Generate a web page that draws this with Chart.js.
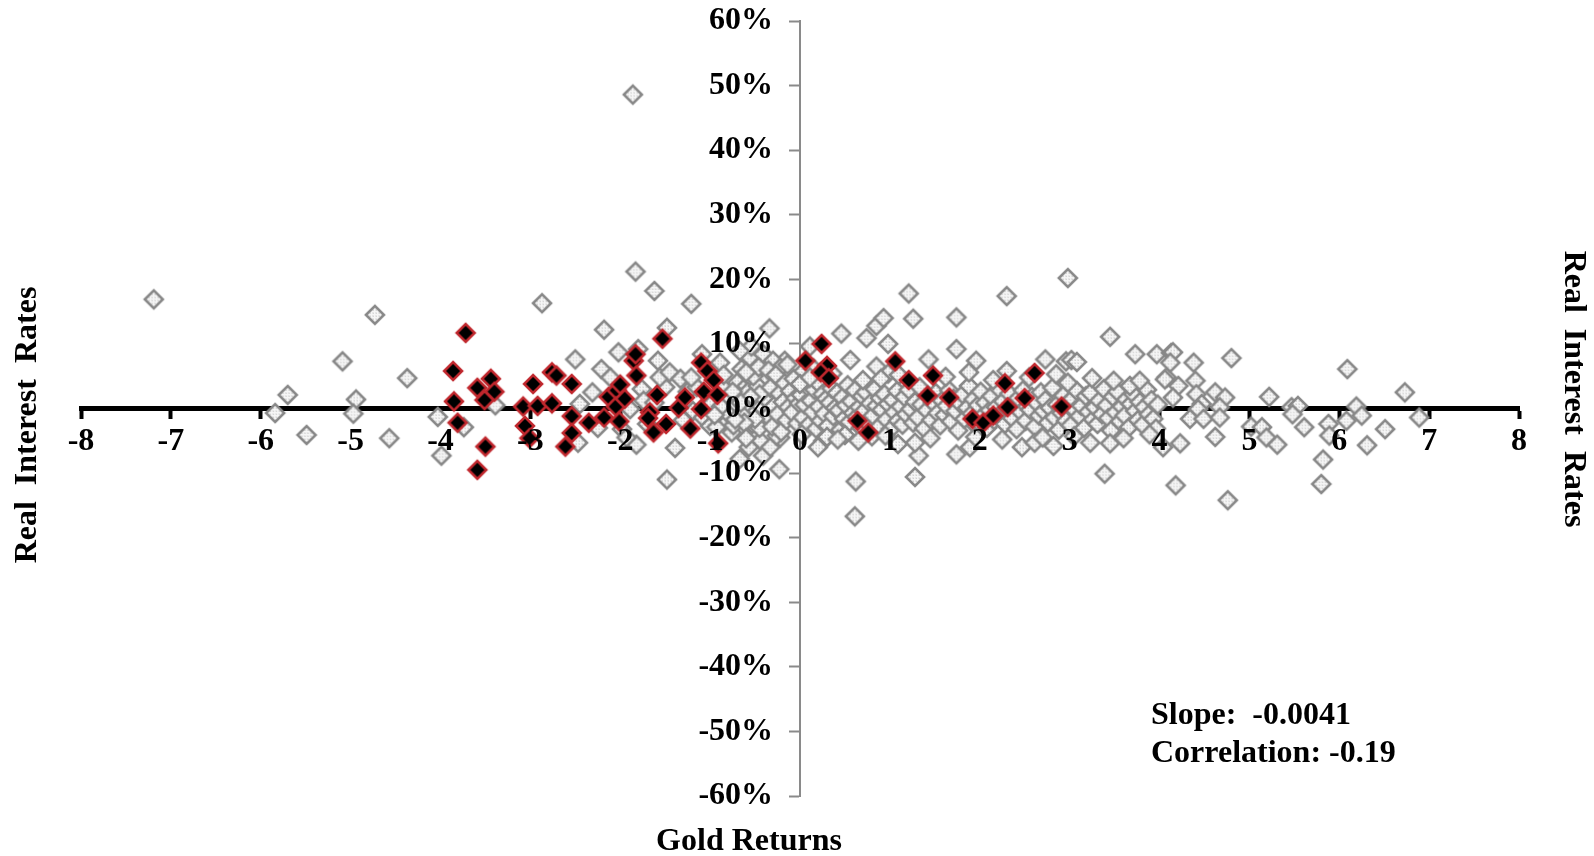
<!DOCTYPE html>
<html>
<head>
<meta charset="utf-8">
<title>Gold Returns vs Real Interest Rates</title>
<script src="https://cdn.jsdelivr.net/npm/chart.js@4.4.1/dist/chart.umd.min.js"></script>
<style>
  html, body { margin: 0; padding: 0; background: #ffffff; }
  #wrap { width: 1594px; height: 856px; position: relative; }
</style>
</head>
<body>
<div id="wrap"><canvas id="chart" width="1594" height="856"></canvas></div>
<script>
// Axis ranges and tick steps
const xRange = [-8, 8];
const yRange = [-60, 60];
const xStep = 1;
const yStep = 10;

// Text
const yTitle = 'Real  Interest  Rates';
const xTitle = 'Gold Returns';
const statLines = ['Slope:  -0.0041', 'Correlation: -0.19'];

// Highlighted observations: [gold return, real interest rate %]
const redPoints = [
  [-3.72,11.7],[-3.86,5.8],[-3.85,1.1],[-3.81,-2.2],[-3.59,3.2],[-3.44,4.6],[-3.40,2.6],[-3.51,1.3],[-3.50,-5.9],[-3.59,-9.5],
  [-2.97,3.8],[-3.08,0.3],[-2.92,0.4],[-2.76,0.8],[-3.06,-2.7],[-3.01,-4.6],[-2.76,5.6],[-2.71,5.1],[-2.54,3.8],[-2.54,-1.2],
  [-2.54,-3.8],[-2.61,-5.9],[-2.35,-2.2],[-2.18,-1.4],[-2.13,1.8],[-2.04,2.8],[-2.00,3.7],[-2.05,0.3],[-1.95,1.5],[-2.01,-2.0],
  [-1.85,7.4],[-1.83,8.4],[-1.82,5.1],[-1.53,10.8],[-1.59,2.1],[-1.67,-0.6],[-1.69,-1.5],[-1.63,-3.7],[-1.49,-2.4],[-1.35,0.1],
  [-1.28,1.7],[-1.22,-3.1],[-1.10,7.1],[-1.03,5.8],[-0.96,4.4],[-1.07,2.6],[-0.92,2.1],[-1.10,-0.1],[-0.91,-5.4],
  [0.24,10.0],[0.06,7.4],[0.30,6.6],[0.23,5.6],[0.32,4.7],[0.64,-1.9],[0.76,-3.7],[1.06,7.3],[1.21,4.4],[1.48,5.1],
  [1.42,2.0],[1.66,1.7],[1.92,-1.6],[2.04,-2.2],[2.15,-1.1],[2.31,0.2],[2.28,3.9],[2.50,1.6],[2.61,5.5],[2.91,0.3]
];

// All other observations: [gold return, real interest rate %]
const grayPoints = [
  // far left
  [-7.19,16.9],[-5.70,2.1],[-5.84,-0.7],[-5.49,-4.1],[-5.09,7.3],[-4.94,1.4],[-4.97,-0.8],[-4.73,14.5],[-4.57,-4.6],[-4.37,4.7],
  [-4.03,-1.3],[-3.99,-7.3],[-3.74,-2.9],[-3.39,0.5],
  // -3 to -1
  [-2.87,16.3],[-2.50,7.6],[-2.21,6.1],[-2.18,12.2],[-2.45,0.7],[-2.31,2.5],[-2.47,-5.3],[-2.11,4.8],[-2.25,-3.0],[-1.98,-3.2],
  [-2.02,8.7],[-1.80,9.2],[-1.58,7.4],[-1.89,-0.1],[-1.82,-5.6],[-1.93,-4.5],[-1.76,3.0],[-1.74,1.2],[-1.70,-2.4],[-1.62,0.9],
  [-1.50,3.3],[-1.56,4.8],[-1.45,5.6],[-1.33,4.6],[-1.48,12.5],[-1.21,16.2],[-1.86,48.6],[-1.83,21.2],[-1.62,18.2],[-1.39,-6.1],
  [-1.48,-11.0],[-1.30,-1.8],[-1.25,2.6],[-1.15,3.3],[-1.21,4.8],[-1.09,8.4],[-1.19,-0.4],[-1.08,-1.4],[-1.00,-2.7],
  // -1 to 0
  [-0.89,7.1],[-0.65,6.1],[-0.56,7.9],[-0.41,8.4],[-0.39,4.3],[-0.70,4.0],[-0.63,3.0],[-0.82,1.2],[-0.85,-1.9],[-0.93,-2.9],
  [-0.76,-3.7],[-0.52,-3.7],[-0.44,-5.0],[-0.57,-6.0],[-0.67,-7.8],[-0.41,-7.3],[-0.70,-0.4],[-0.59,0.7],[-0.48,-0.4],[-0.34,12.4],
  [-0.54,9.6],[-0.67,8.9],[-0.23,-9.4],[-0.17,7.4],[-0.30,7.4],[-0.22,6.3],[-0.22,-4.5],[-0.33,-6.0],[-0.07,3.3],
  [-0.98,0.8],[-0.90,-0.6],[-0.86,3.3],[-0.78,0.0],[-0.74,-2.6],[-0.68,1.9],[-0.64,-1.0],[-0.58,2.6],[-0.53,-2.4],[-0.47,3.5],
  [-0.43,0.3],[-0.40,-2.0],[-0.52,5.0],[-0.46,6.4],[-0.60,5.6],[-0.35,5.9],[-0.14,6.8],[-0.26,-4.2],[-0.85,5.2],[-0.45,-3.0],
  [-0.38,1.5],[-0.36,-1.2],[-0.33,3.2],[-0.31,-2.8],[-0.29,0.4],[-0.27,5.2],[-0.25,-0.9],[-0.23,2.3],[-0.21,-3.6],[-0.19,1.0],
  [-0.17,3.9],[-0.15,-1.8],[-0.13,0.2],[-0.11,2.7],[-0.09,-0.6],[-0.07,4.6],[-0.05,1.6],[-0.03,-2.3],[-0.01,0.8],[-0.45,2.2],
  [-0.50,-1.6],[-0.55,1.8],[-0.62,-2.2],[-0.66,0.9],[-0.75,2.6],[-0.80,-0.8],[-0.88,0.3],[-0.95,-1.0],[-0.72,-1.7],[-0.60,-4.6],
  // 0 to 4, main band
  [0.01,2.1],[0.03,-1.4],[0.05,0.6],[0.08,3.4],[0.09,-2.6],[0.12,1.2],[0.14,-0.5],[0.16,2.9],[0.18,-3.1],[0.19,4.1],
  [0.21,0.3],[0.23,-1.9],[0.25,2.2],[0.27,-0.8],[0.29,1.5],[0.31,-2.7],[0.33,0.9],[0.35,3.1],[0.37,-1.2],[0.39,0.1],
  [0.41,2.4],[0.43,-0.3],[0.45,-3.3],[0.47,1.7],[0.49,-1.6],[0.51,0.5],[0.53,3.6],[0.55,-2.1],[0.57,1.1],[0.59,-0.7],
  [0.61,2.8],[0.63,-1.3],[0.66,0.2],[0.68,-3.0],[0.69,1.9],[0.71,-0.4],[0.73,2.5],[0.76,-2.4],[0.78,0.8],
  [0.81,-1.1],[0.83,3.0],[0.85,0.4],[0.88,-2.8],[0.89,1.6],[0.91,-0.2],[0.94,2.2],[0.96,-1.7],[0.98,0.7],
  [0.04,5.8],[0.15,6.2],[0.36,5.4],[0.70,4.4],[0.02,-4.0],[0.26,-5.0],[0.50,-4.1],[0.80,-4.3],
  [1.01,-3.2],[1.03,1.3],[1.05,-0.6],[1.08,2.7],[1.09,-1.9],[1.12,0.3],[1.14,-2.5],[1.16,1.8],[1.18,-0.9],
  [1.21,2.9],[1.23,-0.1],[1.26,-2.2],[1.28,1.0],[1.31,-1.4],[1.33,3.3],[1.35,0.6],[1.38,-3.1],
  [1.41,-0.3],[1.44,1.7],[1.46,-1.8],[1.48,0.9],[1.51,2.4],[1.53,-0.7],[1.56,-2.6],[1.58,1.2],
  [1.61,-1.0],[1.63,0.4],[1.66,2.8],[1.68,-2.0],[1.71,1.5],[1.73,-0.4],[1.76,-3.4],[1.78,0.8],
  [1.81,2.2],[1.83,-1.6],[1.86,0.1],[1.88,3.5],[1.91,-0.8],[1.93,1.4],[1.96,-2.7],[1.98,0.5],
  [2.01,2.6],[2.03,-1.2],[2.06,0.9],[2.08,-3.0],[2.11,-0.3],[2.13,1.9],[2.16,-1.8],[2.18,0.2],
  [2.21,3.1],[2.23,-0.9],[2.26,1.1],[2.28,-2.4],[2.31,-0.1],[2.33,2.3],[2.36,-1.5],[2.38,0.7],
  [2.41,-3.2],[2.43,1.6],[2.46,-0.6],[2.48,2.8],[2.51,-1.9],[2.53,0.3],[2.56,-0.2],[2.58,1.8],
  [2.61,-2.8],[2.63,0.9],[2.66,-1.1],[2.68,2.5],[2.71,-0.4],[2.73,1.3],[2.76,-2.2],[2.78,0.1],
  [2.81,3.2],[2.83,-1.4],[2.86,0.6],[2.88,-3.3],[2.91,-0.7],[2.93,2.0],[2.96,-1.9],[2.98,0.8],
  [3.01,-2.6],[3.03,1.5],[3.06,-0.3],[3.08,2.7],[3.11,-1.2],[3.13,0.4],[3.16,-3.0],[3.18,1.9],
  [3.21,-0.5],[3.23,2.4],[3.26,-1.7],[3.28,0.2],[3.31,-2.4],[3.33,1.2],[3.36,-0.9],[3.38,3.0],
  [3.41,0.5],[3.43,-1.5],[3.46,-3.4],[3.48,1.8],[3.51,-0.6],[3.53,2.6],[3.56,-2.0],[3.58,0.3],
  [3.61,-1.1],[3.63,1.4],[3.66,-2.9],[3.68,0.7],[3.71,2.2],[3.73,-0.4],[3.76,-1.8],[3.78,1.0],
  [3.81,-2.5],[3.83,0.2],[3.86,2.9],[3.88,-0.9],[3.91,1.3],[3.93,-1.6],[3.96,-3.1],[3.98,0.6],
  // 0 to 4, above and below the band
  [0.11,9.6],[0.00,3.8],[0.46,11.6],[0.74,10.9],[0.85,12.8],[0.93,14.0],[0.98,10.0],[1.21,17.8],[1.26,13.9],[1.74,14.1],
  [2.30,17.4],[2.98,20.2],[3.45,11.1],[0.56,7.5],[0.85,6.5],[0.98,5.4],[1.43,7.6],[1.74,9.2],[1.96,7.4],[2.30,5.8],
  [2.73,7.6],[2.96,7.3],[3.02,7.5],[3.08,7.2],[3.73,8.4],[3.97,8.4],[4.13,8.6],[2.98,4.0],[3.49,4.3],[3.67,3.5],
  [3.78,4.3],[4.08,4.8],[0.11,4.8],
  [0.20,-6.0],[0.62,-11.3],[0.61,-16.7],[1.28,-10.6],[1.74,-7.1],[1.32,-7.3],[1.28,-5.3],[1.09,-5.5],[0.65,-5.0],
  [2.47,-6.0],[2.61,-5.3],[2.82,-5.8],[3.23,-5.3],[3.45,-5.4],[3.39,-10.1],[3.89,-4.0],[1.89,-6.0],
  [0.30,-4.4],[0.90,4.6],[1.10,5.2],[1.62,4.9],[1.88,5.6],[2.15,4.4],[2.55,4.8],[2.85,5.3],[3.25,4.7],
  [0.42,-4.8],[0.95,-4.2],[1.45,-4.6],[1.95,-4.4],[2.25,-4.8],[2.70,-4.5],[3.05,-4.3],[3.60,-4.6],
  // right side
  [4.15,8.7],[4.12,7.1],[4.38,7.1],[4.80,7.8],[4.06,4.5],[4.21,3.5],[4.40,4.3],[4.15,1.7],[4.41,2.2],[4.62,2.5],
  [4.73,1.7],[4.47,0.7],[4.43,-0.1],[4.67,0.2],[4.34,-1.6],[4.49,-1.6],[4.67,-1.4],[4.23,-5.4],[4.62,-4.4],[4.04,-6.0],
  [4.18,-11.9],[4.76,-14.2],[5.22,1.8],[5.02,-2.8],[5.14,-2.9],[5.19,-4.5],[5.31,-5.6],[5.47,0.2],[5.54,0.4],[5.48,-0.9],
  [5.61,-2.9],[5.88,-2.4],[5.89,-4.2],[5.82,-7.9],[5.80,-11.7],[6.09,6.1],[6.08,-1.9],[6.19,0.3],[6.25,-1.1],[6.31,-5.7],
  [6.73,2.5],[6.89,-1.4],[6.51,-3.2]
];

const FONT_FAMILY = '"Liberation Serif", "Times New Roman", Times, serif';
const FONT_SIZE = 32;
// Where the percentage labels sit, left of the vertical axis (in gold-return units)
const yLabelAnchor = -0.30;

// Light grey cross-hatch used inside the grey diamonds
function hatchFill(g) {
  const tile = document.createElement('canvas');
  tile.width = 3; tile.height = 3;
  const t = tile.getContext('2d');
  t.fillStyle = '#e8e8e8';
  t.fillRect(0, 0, 3, 3);
  t.fillStyle = '#f7f7f7';
  t.fillRect(0, 0, 3, 1);
  t.fillRect(0, 0, 1, 3);
  t.fillStyle = '#d2d2d2';
  t.fillRect(2, 2, 1, 1);
  return g.createPattern(tile, 'repeat');
}

// Diamond marker sprite: half-diagonal `half`, outline width `lineW`
function diamondSprite(half, lineW, fill, stroke) {
  const pad = Math.ceil(half + lineW) + 1;
  const size = pad * 2;
  const cv = document.createElement('canvas');
  cv.width = size; cv.height = size;
  const g = cv.getContext('2d');
  const c = size / 2;
  g.beginPath();
  g.moveTo(c - half, c);
  g.lineTo(c, c - half);
  g.lineTo(c + half, c);
  g.lineTo(c, c + half);
  g.closePath();
  g.fillStyle = fill === 'hatch' ? hatchFill(g) : fill;
  g.fill();
  g.lineJoin = 'miter';
  g.lineWidth = lineW;
  g.strokeStyle = stroke;
  g.stroke();
  return cv;
}

const grayMarker = diamondSprite(9.0, 2.6, 'hatch', '#888888');
const redMarker = diamondSprite(8.9, 2.6, '#000000', '#c0272d');

const toXY = arr => arr.map(p => ({ x: p[0], y: p[1] }));

// Axis titles and the regression summary
const textPlugin = {
  id: 'chartText',
  afterDraw(chart) {
    const c = chart.ctx;
    c.save();
    c.fillStyle = '#000';
    c.font = 'bold ' + FONT_SIZE + 'px ' + FONT_FAMILY;
    c.textAlign = 'center';
    c.textBaseline = 'middle';
    c.save();
    c.translate(28, 425);
    c.rotate(-Math.PI / 2);
    c.fillText(yTitle, 0, 0);
    c.restore();
    c.save();
    c.translate(1573, 389);
    c.rotate(Math.PI / 2);
    c.fillText(yTitle, 0, 0);
    c.restore();
    c.fillText(xTitle, 749, 842);
    c.textAlign = 'left';
    c.fillText(statLines[0], 1151, 716);
    c.fillText(statLines[1], 1151, 754);
    c.restore();
  }
};

const tickFont = { family: FONT_FAMILY, size: FONT_SIZE, weight: 'bold' };

const chart = new Chart(document.getElementById('chart'), {
  type: 'scatter',
  data: {
    datasets: [
      {
        label: 'highlighted',
        data: toXY(redPoints),
        order: 0,
        pointStyle: redMarker,
        pointRadius: 10
      },
      {
        label: 'all',
        data: toXY(grayPoints),
        order: 1,
        pointStyle: grayMarker,
        pointRadius: 10
      }
    ]
  },
  options: {
    responsive: false,
    animation: false,
    events: [],
    layout: { padding: { left: 81, right: 75, top: 21, bottom: 60 } },
    plugins: {
      legend: { display: false },
      tooltip: { enabled: false },
      title: { display: false }
    },
    scales: {
      // axis line and tick marks sit beneath the markers, tick labels above them
      x: {
        type: 'linear',
        position: { y: 0 },
        min: xRange[0],
        max: xRange[1],
        ticks: {
          stepSize: xStep,
          autoSkip: false,
          maxRotation: 0,
          color: '#000',
          padding: 6,
          z: 1,
          font: tickFont
        },
        grid: {
          drawOnChartArea: false,
          drawTicks: true,
          tickLength: 8,
          tickWidth: 4,
          tickColor: '#000'
        },
        border: { display: true, color: '#000', width: 5 }
      },
      y: {
        type: 'linear',
        position: { x: 0 },
        min: yRange[0],
        max: yRange[1],
        ticks: { stepSize: yStep, display: false, padding: 0 },
        grid: {
          drawOnChartArea: false,
          drawTicks: true,
          tickLength: 10,
          tickWidth: 2,
          tickColor: '#8a8a8a'
        },
        border: { display: true, color: '#8a8a8a', width: 2 }
      },
      // percentage labels, set off to the left of the vertical axis
      yLabels: {
        type: 'linear',
        axis: 'y',
        position: { x: yLabelAnchor },
        min: yRange[0],
        max: yRange[1],
        ticks: {
          stepSize: yStep,
          autoSkip: false,
          color: '#000',
          padding: 0,
          z: 1,
          font: tickFont,
          callback: v => v + '%'
        },
        grid: { display: false },
        border: { display: false }
      }
    }
  },
  plugins: [textPlugin]
});
</script>
</body>
</html>
